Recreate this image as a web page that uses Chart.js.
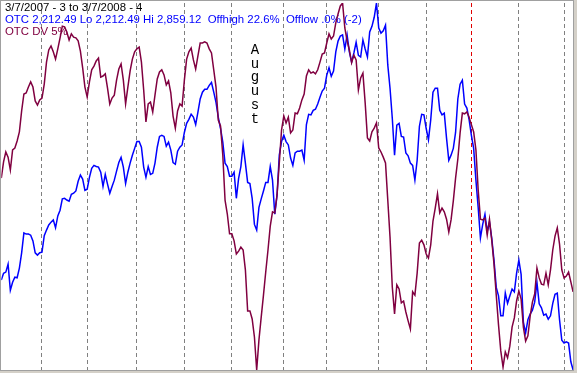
<!DOCTYPE html>
<html>
<head>
<meta charset="utf-8">
<script src="https://cdn.jsdelivr.net/npm/chart.js@4/dist/chart.umd.min.js"></script>
<style>
  html, body { margin: 0; padding: 0; background: #d4d0c8; }
  canvas { display: block; }
</style>
</head>
<body>
<canvas id="chart" width="577" height="373"></canvas>
<script>
// trading days 3/7/2007 .. 3/7/2008, index 0..253
const monthStarts = [18, 38, 60, 81, 102, 125, 144, 167, 188, 208, 229, 249];
const yearStart = 208;

const otc = [2371,2383,2385,2399,2353,2367,2376,2375,2392,2419,
  2454,2452,2452,2450,2440,2419,2415,2419,2420,2449,
  2459,2468,2473,2477,2463,2484,2494,2514,2515,2512,
  2510,2522,2524,2528,2545,2556,2549,2529,2531,2552,
  2568,2573,2571,2570,2561,2536,2557,2540,2524,2536,
  2547,2563,2578,2587,2570,2541,2561,2577,2591,2603,
  2615,2615,2605,2570,2552,2571,2557,2559,2577,2605,
  2624,2626,2624,2607,2614,2600,2578,2575,2598,2605,
  2609,2631,2647,2654,2663,2658,2645,2667,2690,2702,
  2707,2707,2714,2719,2702,2684,2658,2638,2614,2577,
  2571,2554,2554,2561,2515,2550,2571,2609,2577,2543,
  2541,2515,2469,2459,2499,2514,2528,2543,2543,2571,
  2547,2487,2520,2591,2615,2626,2615,2609,2586,2573,
  2595,2598,2598,2600,2582,2645,2663,2662,2670,2672,
  2681,2693,2704,2709,2732,2745,2730,2739,2773,2792,
  2801,2803,2778,2803,2773,2755,2771,2790,2767,2764,
  2794,2778,2764,2808,2818,2834,2859.12,2815,2806,2810,
  2820,2750,2709,2656,2591,2644,2647,2624,2623,2595,
  2590,2577,2573,2547,2582,2642,2663,2662,2638,2618,
  2653,2702,2709,2709,2670,2662,2665,2621,2582,2591,
  2603,2631,2690,2716,2723,2681,2674,2653,2626,2603,
  2547,2499,2445,2469,2487,2457,2473,2445,2406,2358,
  2343,2308,2308,2348,2330,2343,2355,2350,2383,2406,
  2381,2297,2278,2301,2311,2318,2332,2367,2329,2322,
  2309,2311,2302,2308,2330,2346,2348,2301,2265,2260,
  2262,2260,2227,2212.49];

// OTC DV 5%, as percent of its own range
const dv = [52.3,56.7,59.4,58.0,54.5,60.0,60.5,62.4,64.9,70.6,
  75.2,75.5,77.1,78.5,77.1,73.3,72.2,73.6,74.1,77.9,
  83.9,87.2,88.3,86.7,84.7,87.5,90.5,93.7,93.5,92.1,
  89.9,91.6,90.7,90.5,89.7,86.9,82.3,77.1,74.4,78.5,
  81.8,82.8,84.2,85.0,79.8,80.1,80.7,76.8,72.5,74.1,
  74.9,79.0,82.0,83.4,79.0,72.5,77.1,81.5,84.7,86.7,
  87.5,88.0,83.9,76.3,67.6,72.5,73.0,70.3,74.9,79.3,
  81.2,81.8,80.4,77.7,78.8,75.5,69.2,65.9,70.6,72.5,
  71.9,79.0,84.7,86.7,87.7,84.5,82.0,85.6,89.1,89.1,
  89.4,89.1,87.5,86.4,81.8,77.1,68.1,66.5,58.6,46.3,
  42.5,37.1,37.1,35.2,31.6,32.4,33.5,32.7,27.3,16.1,
  16.1,13.9,9.0,0,8.2,14.4,20.4,26.7,32.7,39.2,
  43.1,42.8,47.7,56.4,65.4,69.2,67.3,68.9,64.6,65.4,
  70.0,69.8,71.4,73.6,75.2,80.1,81.8,80.9,81.2,80.7,
  81.8,83.9,86.1,86.4,89.1,91.6,90.2,91.0,94.6,97.0,
  99.2,100,93.2,89.7,87.2,83.7,85.8,84.5,76.3,79.6,
  80.9,72.8,63.2,62.4,64.9,65.9,67.3,60.5,59.4,58.0,
  56.4,46.3,36.2,22.6,15.3,23.2,22.1,18.3,18.8,15.8,
  13.4,11.2,21.3,20.4,26.4,34.6,35.4,34.1,31.6,30.5,
  34.1,40.6,44.1,48.0,42.8,44.1,43.1,41.1,37.6,40.9,
  46.1,52.3,57.5,64.6,70.0,69.8,70.3,68.9,66.8,64.9,
  60.0,49.1,41.1,40.9,41.4,36.8,41.1,35.4,28.9,20.4,
  12.3,5.2,0.8,4.9,3.3,6.5,11.7,14.2,18.8,21.5,
  19.3,11.7,7.9,9.3,14.7,18.5,20.7,27.8,25.1,23.4,
  23.2,26.4,23.2,27.3,32.7,36.5,38.7,34.3,27.3,25.1,
  25.6,26.7,24.0,21.3];

const headerLines = [
  { text: '3/7/2007 - 3 to 3/7/2008 - 4', color: '#000000' },
  { text: 'OTC 2,212.49 Lo 2,212.49 Hi 2,859.12  Offhigh 22.6%  Offlow .0% (-2)', color: '#0000ff' },
  { text: 'OTC DV 5%', color: '#800040' },
];
const noteText = 'August';

const frame = {
  id: 'frame',
  beforeDraw(chart) {
    const c = chart.ctx;
    c.save();
    c.fillStyle = '#d4d0c8';
    c.fillRect(0, 0, chart.width, chart.height);
    c.fillStyle = '#ffffff';
    c.fillRect(1, 1, 572, 369);
    c.strokeStyle = '#a0a0a0';
    c.lineWidth = 1;
    c.strokeRect(0.5, 0.5, 573, 370);
    c.restore();
  },
  beforeDatasetsDraw(chart) {
    const c = chart.ctx;
    c.save();
    c.font = '11.4px "Liberation Sans", Arial, sans-serif';
    c.textBaseline = 'alphabetic';
    headerLines.forEach((l, i) => {
      c.fillStyle = l.color;
      c.fillText(l.text, 5, 11 + i * 12);
    });
    c.fillStyle = '#000000';
    c.font = '14px "Liberation Mono", "Courier New", monospace';
    c.textAlign = 'center';
    c.textBaseline = 'middle';
    noteText.split('').forEach((ch, i) => {
      c.fillText(ch, 255, 50 + i * 13.8);
    });
    c.restore();
  }
};

new Chart(document.getElementById('chart'), {
  type: 'line',
  data: {
    datasets: [
      {
        data: dv.map((v, i) => ({ x: i, y: v })),
        yAxisID: 'y2',
        borderColor: '#800040',
        borderWidth: 1.5,
        pointRadius: 0,
        tension: 0,
      },
      {
        data: otc.map((v, i) => ({ x: i, y: v })),
        yAxisID: 'y',
        borderColor: '#0000ff',
        borderWidth: 1.5,
        pointRadius: 0,
        tension: 0,
      },
    ],
  },
  options: {
    responsive: false,
    animation: false,
    devicePixelRatio: 1,
    layout: { padding: { left: 1.3, right: 3.9, top: 3, bottom: 3 } },
    plugins: { legend: { display: false }, tooltip: { enabled: false } },
    scales: {
      x: {
        type: 'linear',
        min: 0,
        max: 253,
        afterBuildTicks: (s) => { s.ticks = monthStarts.map((v) => ({ value: v })); },
        afterFit: (s) => { s.height = 0; },
        ticks: { display: false },
        grid: {
          drawTicks: false,
          lineWidth: 1,
          color: (ctx) => (ctx.tick && ctx.tick.value === yearStart ? '#e00000' : '#808080'),
        },
        border: { display: false, dash: [4, 3] },
      },
      y: { display: false, min: 2212.49, max: 2859.12 },
      y2: { display: false, min: 0, max: 100 },
    },
  },
  plugins: [frame],
});
</script>
</body>
</html>
